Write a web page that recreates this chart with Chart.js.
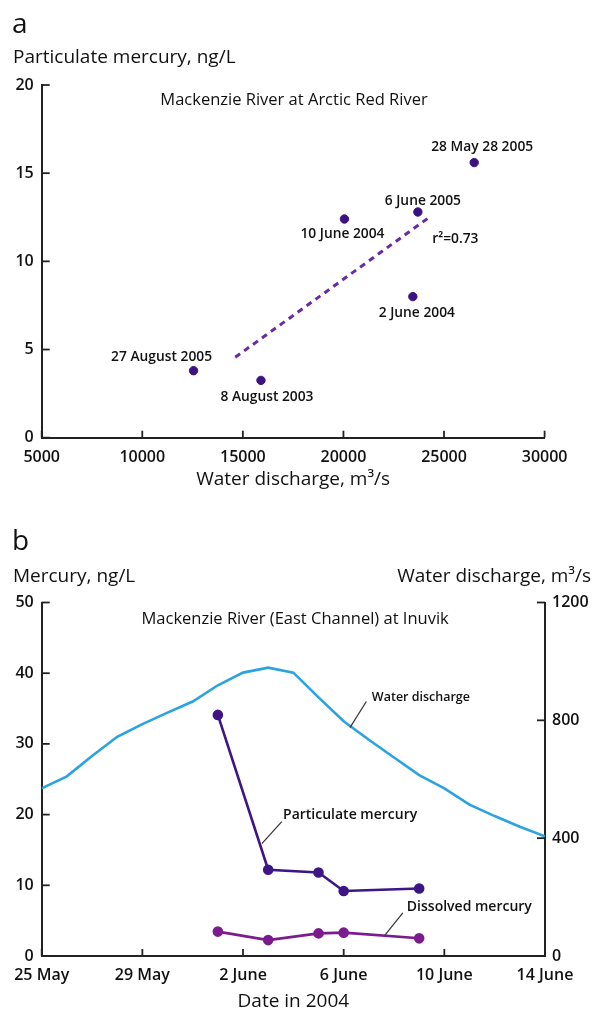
<!DOCTYPE html>
<html>
<head>
<meta charset="utf-8">
<script src="https://cdn.jsdelivr.net/npm/chart.js@4.4.1/dist/chart.umd.min.js"></script>
<style>
html, body { margin: 0; padding: 0; background: #fff; }
#wrap { position: relative; width: 593px; height: 1011px; }
canvas { position: absolute; left: 0; }
</style>
</head>
<body>
<div id="wrap">
  <canvas id="chart-a" width="593" height="500" style="top:0"></canvas>
  <canvas id="chart-b" width="593" height="511" style="top:500px"></canvas>
</div>
<script>
// ---- panel a : particulate mercury vs discharge ----
const sampleDates = ['28 May 28 2005', '6 June 2005', '10 June 2004', '2 June 2004', '27 August 2005', '8 August 2003'];
const dischargeA = [26500, 23700, 20050, 23450, 12550, 15900];
const particulateA = [15.6, 12.8, 12.4, 8.0, 3.8, 3.25];
const trendDischarge = [14620, 24270];
const trendMercury = [4.56, 12.5];
const trendR2 = 'r\u00b2=0.73';

// ---- panel b : Inuvik 2004 (x = days after 25 May) ----
const days = [0, 1, 2, 3, 4, 5, 6, 7, 8, 9, 10, 11, 12, 13, 14, 15, 16, 17, 18, 19, 20];
const waterDischarge = [569, 610, 679, 744, 787, 826, 864, 919, 962, 979, 962, 878, 797, 734, 674, 614, 569, 514, 475, 439, 406];
const sampleDays = [7, 9, 11, 12, 15];
const particulateHg = [34.1, 12.2, 11.8, 9.2, 9.55];
const dissolvedHg = [3.45, 2.25, 3.2, 3.3, 2.5];
const dateTickLabels = ['25 May', '29 May', '2 June', '6 June', '10 June', '14 June'];

Chart.defaults.font.family = "'Open Sans', sans-serif";
Chart.defaults.color = '#111';

const FONT = "'Open Sans', sans-serif";
const tickFont = { size: 16, weight: '600' };

// label offsets (px) from each sample point in panel a
const labelOffsetsA = [[8, -16], [5, -11], [-2, 15], [4, 16], [-32, -14], [6, 17]];

// draw short tick marks pointing into the plot
const innerTicks = {
  id: 'innerTicks',
  afterDraw(chart) {
    const ctx = chart.ctx;
    const a = chart.chartArea;
    ctx.save();
    ctx.strokeStyle = '#222';
    ctx.lineWidth = 1.8;
    Object.values(chart.scales).forEach(s => {
      s.ticks.forEach(t => {
        const p = s.getPixelForValue(t.value);
        ctx.beginPath();
        if (s.axis === 'x') { ctx.moveTo(p, a.bottom); ctx.lineTo(p, a.bottom - 7); }
        else if (s.position === 'left') { ctx.moveTo(a.left, p); ctx.lineTo(a.left + 8, p); }
        else { ctx.moveTo(a.right, p); ctx.lineTo(a.right - 8, p); }
        ctx.stroke();
      });
    });
    ctx.restore();
  }
};

const textA = {
  id: 'textA',
  afterDraw(chart) {
    const { ctx, chartArea: a, scales: { x, y } } = chart;
    ctx.save();
    ctx.fillStyle = '#111';
    ctx.textAlign = 'left';
    ctx.textBaseline = 'alphabetic';
    ctx.font = '28px ' + FONT;
    ctx.fillText('a', 12, 33);
    ctx.font = '19px ' + FONT;
    ctx.fillText('Particulate mercury, ng/L', 13, 63);
    ctx.textAlign = 'center';
    ctx.fillText('Water discharge, m\u00b3/s', (a.left + a.right) / 2, 485);
    ctx.font = '16.5px ' + FONT;
    ctx.fillText('Mackenzie River at Arctic Red River', 294, 105);
    ctx.font = '600 13.8px ' + FONT;
    ctx.textBaseline = 'middle';
    sampleDates.forEach((t, i) => {
      const px = x.getPixelForValue(dischargeA[i]) + labelOffsetsA[i][0];
      const py = y.getPixelForValue(particulateA[i]) + labelOffsetsA[i][1];
      ctx.fillText(t, px, py);
    });
    ctx.fillText(trendR2, x.getPixelForValue(trendDischarge[1]) + 26, y.getPixelForValue(trendMercury[1]) + 22);
    ctx.restore();
  }
};

new Chart(document.getElementById('chart-a').getContext('2d'), {
  type: 'scatter',
  data: {
    datasets: [{
      data: dischargeA.map((v, i) => ({ x: v, y: particulateA[i] })),
      backgroundColor: '#3b1280',
      borderColor: '#3b1280',
      pointRadius: 4.2,
      pointHoverRadius: 4.2
    }, {
      type: 'line',
      data: trendDischarge.map((v, i) => ({ x: v, y: trendMercury[i] })),
      borderColor: '#6a2aa6',
      borderWidth: 3,
      borderDash: [6, 5],
      pointRadius: 0,
      fill: false
    }]
  },
  options: {
    responsive: false,
    animation: false,
    devicePixelRatio: 1,
    layout: { padding: { top: 85, right: 48.4, left: 0, bottom: 0 } },
    plugins: { legend: { display: false }, tooltip: { enabled: false } },
    scales: {
      x: {
        type: 'linear', min: 5000, max: 30000,
        grid: { display: false, drawTicks: false },
        border: { display: true, color: '#222', width: 2 },
        ticks: { stepSize: 5000, font: tickFont, padding: 10, maxRotation: 0, autoSkip: false, callback: v => String(v) },
        afterFit: s => { s.height = 62.3; }
      },
      y: {
        min: 0, max: 20,
        grid: { display: false, drawTicks: false },
        border: { display: true, color: '#222', width: 2 },
        ticks: { stepSize: 5, font: tickFont, padding: 8 },
        afterFit: s => { s.width = 41.7; }
      }
    }
  },
  plugins: [innerTicks, textA]
});

// ---- panel b ----
// series labels with leader lines, in data units (day, mercury ng/L)
const seriesNotes = [
  { text: 'Water discharge', size: 12.5, tx: 13.12, ty: 36.6, from: [12.9, 36.0], to: [12.25, 32.3] },
  { text: 'Particulate mercury', size: 14, tx: 9.59, ty: 19.9, from: [9.54, 19.0], to: [8.75, 15.9] },
  { text: 'Dissolved mercury', size: 14, tx: 14.51, ty: 6.96, from: [14.35, 6.1], to: [13.64, 2.97] }
];

const textB = {
  id: 'textB',
  afterDraw(chart) {
    const { ctx, chartArea: a, scales: { x, y } } = chart;
    ctx.save();
    ctx.fillStyle = '#111';
    ctx.textAlign = 'left';
    ctx.textBaseline = 'alphabetic';
    ctx.font = '28px ' + FONT;
    ctx.fillText('b', 12, 50);
    ctx.font = '19px ' + FONT;
    ctx.fillText('Mercury, ng/L', 13, 82);
    ctx.textAlign = 'right';
    ctx.fillText('Water discharge, m\u00b3/s', 591, 82);
    ctx.textAlign = 'center';
    ctx.fillText('Date in 2004', (a.left + a.right) / 2, 507);
    ctx.font = '16.5px ' + FONT;
    ctx.fillText('Mackenzie River (East Channel) at Inuvik', x.getPixelForValue(10.07), y.getPixelForValue(47));
    ctx.textAlign = 'left';
    ctx.textBaseline = 'middle';
    ctx.strokeStyle = '#333';
    ctx.lineWidth = 1.2;
    seriesNotes.forEach(n => {
      ctx.font = '600 ' + n.size + 'px ' + FONT;
      ctx.fillText(n.text, x.getPixelForValue(n.tx), y.getPixelForValue(n.ty));
      ctx.beginPath();
      ctx.moveTo(x.getPixelForValue(n.from[0]), y.getPixelForValue(n.from[1]));
      ctx.lineTo(x.getPixelForValue(n.to[0]), y.getPixelForValue(n.to[1]));
      ctx.stroke();
    });
    ctx.restore();
  }
};

new Chart(document.getElementById('chart-b').getContext('2d'), {
  type: 'line',
  data: {
    datasets: [{
      label: 'Water discharge',
      data: days.map((d, i) => ({ x: d, y: waterDischarge[i] })),
      yAxisID: 'y2',
      borderColor: '#2ba3e0',
      borderWidth: 2.6,
      pointRadius: 0,
      tension: 0,
      fill: false
    }, {
      label: 'Particulate mercury',
      data: sampleDays.map((d, i) => ({ x: d, y: particulateHg[i] })),
      yAxisID: 'y',
      borderColor: '#3d1585',
      backgroundColor: '#3d1585',
      borderWidth: 2.6,
      pointRadius: 4,
      fill: false
    }, {
      label: 'Dissolved mercury',
      data: sampleDays.map((d, i) => ({ x: d, y: dissolvedHg[i] })),
      yAxisID: 'y',
      borderColor: '#7b1b8d',
      backgroundColor: '#7b1b8d',
      borderWidth: 2.6,
      pointRadius: 4,
      fill: false
    }]
  },
  options: {
    responsive: false,
    animation: false,
    devicePixelRatio: 1,
    layout: { padding: { top: 102.5, right: 0, left: 0, bottom: 0 } },
    plugins: { legend: { display: false }, tooltip: { enabled: false } },
    scales: {
      x: {
        type: 'linear', min: 0, max: 20,
        grid: { display: false, drawTicks: false },
        border: { display: true, color: '#222', width: 2 },
        ticks: { stepSize: 4, font: tickFont, padding: 10, maxRotation: 0, autoSkip: false, callback: (v, i) => dateTickLabels[i] },
        afterFit: s => { s.height = 55; }
      },
      y: {
        position: 'left', min: 0, max: 50,
        grid: { display: false, drawTicks: false },
        border: { display: true, color: '#222', width: 2 },
        ticks: { stepSize: 10, font: tickFont, padding: 8 },
        afterFit: s => { s.width = 41.7; }
      },
      y2: {
        position: 'right', min: 0, max: 1200,
        grid: { display: false, drawTicks: false },
        border: { display: true, color: '#222', width: 2 },
        ticks: { stepSize: 400, font: tickFont, padding: 7, callback: v => String(v) },
        afterFit: s => { s.width = 48; }
      }
    }
  },
  plugins: [innerTicks, textB]
});
</script>
</body>
</html>
